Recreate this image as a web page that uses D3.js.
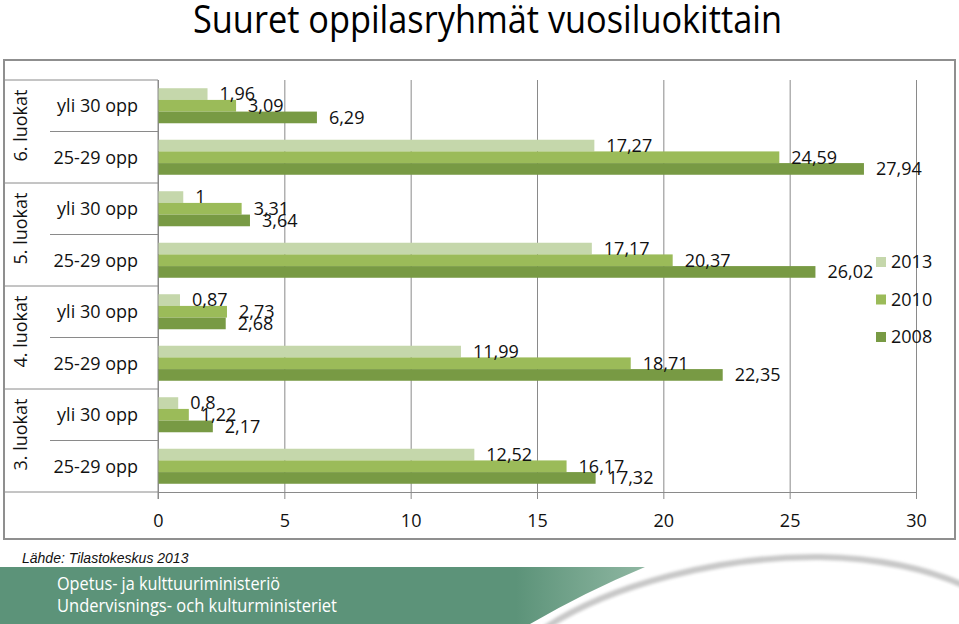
<!DOCTYPE html>
<html>
<head>
<meta charset="utf-8">
<script src="https://cdn.jsdelivr.net/npm/d3@7"></script>
<style>
  body { margin: 0; background: #fff; }
  svg { display: block; font-family: "Open Sans", sans-serif; }
</style>
</head>
<body>
<div id="chart"></div>
<script>
var groups = ["6. luokat", "5. luokat", "4. luokat", "3. luokat"];
var sizes = ["yli 30 opp", "25-29 opp"];
var years = ["2013", "2010", "2008"];
var v2013 = [1.96, 17.27, 1, 17.17, 0.87, 11.99, 0.8, 12.52];
var v2010 = [3.09, 24.59, 3.31, 20.37, 2.73, 18.71, 1.22, 16.17];
var v2008 = [6.29, 27.94, 3.64, 26.02, 2.68, 22.35, 2.17, 17.32];
var xTicks = [0, 5, 10, 15, 20, 25, 30];
var colors = ["#c5d7ab", "#9bbb59", "#789a44"];

var width = 959, height = 624;
var plot = {left: 158, right: 916, top: 80, bottom: 492};

// one row per group x size
var rows = [];
groups.forEach(function(g) {
  sizes.forEach(function(s) { rows.push({group: g, size: s, id: g + "|" + s}); });
});
var series = [v2013, v2010, v2008];

var svg = d3.select("#chart").append("svg")
  .attr("width", width)
  .attr("height", height);

var x = d3.scaleLinear().domain([0, 30]).range([plot.left, plot.right]);
var y = d3.scaleBand().domain(rows.map(function(d) { return d.id; }))
  .range([plot.top, plot.bottom]).paddingInner(0.32).paddingOuter(0.16);
var yInner = d3.scaleBand().domain(years).range([0, y.bandwidth()]);
var yGroup = d3.scaleBand().domain(groups).range([plot.top, plot.bottom]);

// title
svg.append("text")
  .attr("x", 193).attr("y", 33)
  .attr("textLength", 589).attr("lengthAdjust", "spacingAndGlyphs")
  .style("font-size", "38px").style("fill", "#000")
  .text("Suuret oppilasryhmät vuosiluokittain");

// frame
svg.append("rect")
  .attr("x", 4).attr("y", 60).attr("width", 951).attr("height", 479)
  .attr("fill", "none").attr("stroke", "#8f8f8f").attr("stroke-width", 2);

// gridlines
svg.append("g")
  .attr("transform", "translate(0," + plot.bottom + ")")
  .call(d3.axisBottom(x).tickValues(xTicks).tickSize(-(plot.bottom - plot.top)).tickFormat(""))
  .call(function(g) { g.select(".domain").remove(); })
  .selectAll("line").attr("stroke", "#8a8a8a");

// bars
var rowG = svg.append("g").selectAll("g.row")
  .data(rows)
  .enter().append("g")
  .attr("class", "row")
  .attr("transform", function(d) { return "translate(0," + y(d.id) + ")"; });

years.forEach(function(yr, k) {
  rowG.append("rect")
    .attr("x", x(0))
    .attr("y", yInner(yr))
    .attr("height", yInner.bandwidth())
    .attr("width", function(d, i) { return x(series[k][i]) - x(0); })
    .attr("fill", colors[k]);
});

years.forEach(function(yr, k) {
  rowG.append("text")
    .attr("x", function(d, i) { return x(series[k][i]) + 12; })
    .attr("y", yInner(yr) + yInner.bandwidth() / 2)
    .attr("dy", "0.35em")
    .style("font-size", "18px").style("fill", "#111")
    .text(function(d, i) { return String(series[k][i]).replace(".", ","); });
});

// x axis
var xAxis = svg.append("g")
  .attr("transform", "translate(0," + plot.bottom + ")")
  .call(d3.axisBottom(x).tickValues(xTicks).tickSize(7).tickPadding(15));
xAxis.select(".domain").attr("stroke", "#8a8a8a");
xAxis.selectAll(".tick line").attr("stroke", "#8a8a8a");
xAxis.selectAll("text")
  .style("font-family", "Open Sans, sans-serif").style("font-size", "18px").style("fill", "#111");

// category axis area
var axisColor = "#8a8a8a";
svg.append("line")
  .attr("x1", plot.left).attr("x2", plot.left)
  .attr("y1", plot.top).attr("y2", plot.bottom + 7)
  .attr("stroke", axisColor);
svg.append("line")
  .attr("x1", 5).attr("x2", plot.left)
  .attr("y1", plot.bottom).attr("y2", plot.bottom)
  .attr("stroke", axisColor);

svg.append("g").selectAll("line")
  .data(groups)
  .enter().append("line")
  .attr("x1", 5).attr("x2", plot.left)
  .attr("y1", function(d) { return yGroup(d); })
  .attr("y2", function(d) { return yGroup(d); })
  .attr("stroke", axisColor);

svg.append("g").selectAll("line")
  .data(groups)
  .enter().append("line")
  .attr("x1", 50).attr("x2", plot.left)
  .attr("y1", function(d) { return yGroup(d) + yGroup.bandwidth() / 2; })
  .attr("y2", function(d) { return yGroup(d) + yGroup.bandwidth() / 2; })
  .attr("stroke", axisColor);

svg.append("g").selectAll("text")
  .data(rows)
  .enter().append("text")
  .attr("x", 138)
  .attr("y", function(d) { return y(d.id) + y.bandwidth() / 2; })
  .attr("dy", "0.35em")
  .attr("text-anchor", "end")
  .style("font-size", "18px").style("fill", "#111")
  .text(function(d) { return d.size; });

svg.append("g").selectAll("text")
  .data(groups)
  .enter().append("text")
  .attr("transform", function(d) {
    return "translate(27," + (yGroup(d) + yGroup.bandwidth() / 2 - 6) + ") rotate(-90)";
  })
  .attr("text-anchor", "middle")
  .style("font-size", "18px").style("fill", "#111")
  .text(function(d) { return d; });

// legend
var legend = svg.append("g").selectAll("g")
  .data(years)
  .enter().append("g")
  .attr("transform", function(d, i) { return "translate(876," + (262 + i * 37.5) + ")"; });
legend.append("rect")
  .attr("x", 0).attr("y", -5).attr("width", 10).attr("height", 10)
  .attr("fill", function(d, i) { return colors[i]; });
legend.append("text")
  .attr("x", 15).attr("dy", "0.35em")
  .style("font-size", "18px").style("fill", "#111")
  .text(function(d) { return d; });

// source
svg.append("text")
  .attr("x", 22).attr("y", 563)
  .style("font-family", "Liberation Sans, Arial, sans-serif")
  .style("font-style", "italic").style("font-size", "14px").style("fill", "#111")
  .text("Lähde: Tilastokeskus 2013");

// footer band
var defs = svg.append("defs");
var grad = defs.append("linearGradient").attr("id", "fade")
  .attr("x1", "0").attr("x2", "1").attr("y1", "0").attr("y2", "0");
grad.append("stop").attr("offset", "0.8").attr("stop-color", "#5c9379");
grad.append("stop").attr("offset", "1").attr("stop-color", "#8fb7a2");
defs.append("filter").attr("id", "soft")
  .append("feGaussianBlur").attr("stdDeviation", 1.6);

svg.append("path")
  .attr("d", "M0,567 L645,567 Q585,592 530,624 L0,624 Z")
  .attr("fill", "url(#fade)");
svg.append("path")
  .attr("d", "M545,628 C610,585 720,556 820,557 C880,558 930,570 965,586")
  .attr("fill", "none").attr("stroke", "#c8c8c8").attr("stroke-width", 6)
  .attr("filter", "url(#soft)");
svg.append("path")
  .attr("d", "M552,630 C615,590 722,562 820,563 C880,564 930,576 965,592 L965,630 Z")
  .attr("fill", "#fff");

svg.append("text")
  .attr("x", 57).attr("y", 590)
  .attr("textLength", 223).attr("lengthAdjust", "spacingAndGlyphs")
  .style("font-size", "18px").style("fill", "#fff")
  .text("Opetus- ja kulttuuriministeriö");
svg.append("text")
  .attr("x", 57).attr("y", 612)
  .attr("textLength", 280).attr("lengthAdjust", "spacingAndGlyphs")
  .style("font-size", "18px").style("fill", "#fff")
  .text("Undervisnings- och kulturministeriet");
</script>
</body>
</html>
